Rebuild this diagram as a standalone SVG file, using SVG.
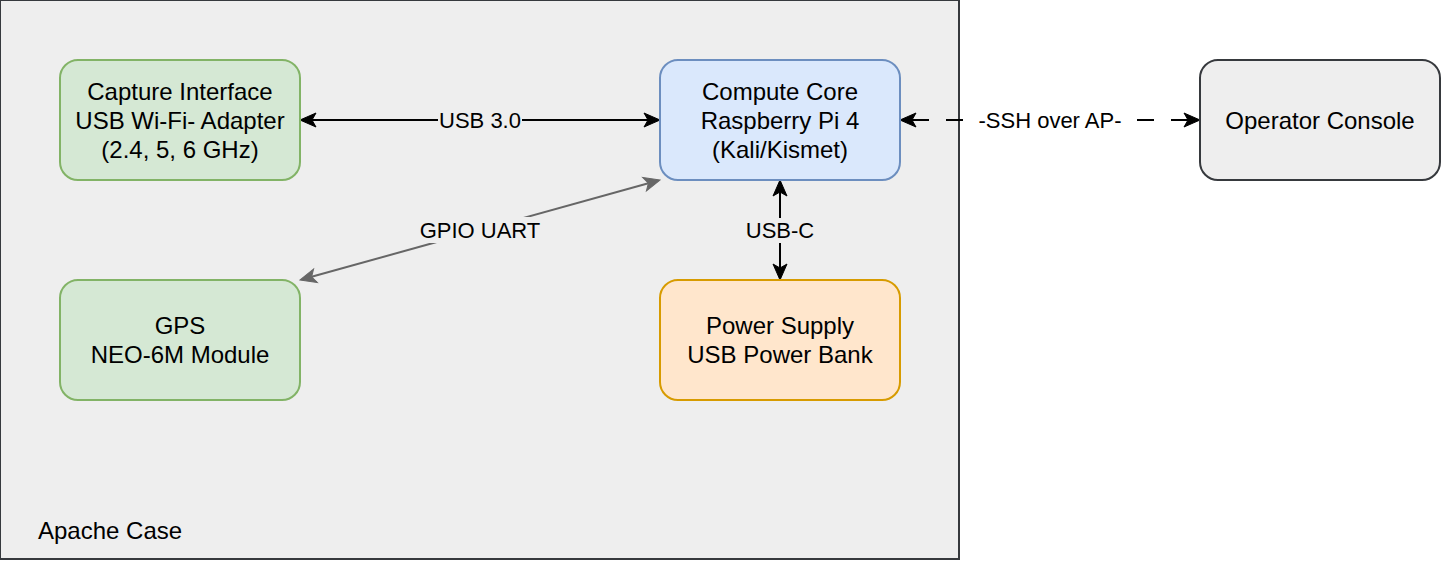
<svg xmlns="http://www.w3.org/2000/svg" width="1442" height="562" viewBox="0 0 1442 562">
  <style>
    .node { stroke-width: 2; }
    .t { font-family: "Liberation Sans", Arial, sans-serif; font-size: 24px; fill: #000; text-anchor: middle; }
    .lbl { font-family: "Liberation Sans", Arial, sans-serif; font-size: 22px; fill: #000; text-anchor: middle; }
    .edge { fill: none; stroke-width: 2; }
  </style>
  <defs>
    <marker id="arrBlack" markerUnits="userSpaceOnUse" markerWidth="20" markerHeight="20" refX="0" refY="0" viewBox="-6 -10 20 20" orient="auto-start-reverse" overflow="visible">
      <path d="M12,0 L-4,-7 L0,0 L-4,7 Z" fill="#000" stroke="#000" stroke-width="1" stroke-linejoin="miter"/>
    </marker>
    <marker id="arrGray" markerUnits="userSpaceOnUse" markerWidth="20" markerHeight="20" refX="0" refY="0" viewBox="-6 -10 20 20" orient="auto-start-reverse" overflow="visible">
      <path d="M12,0 L-4,-7 L0,0 L-4,7 Z" fill="#666666" stroke="#666666" stroke-width="1" stroke-linejoin="miter"/>
    </marker>
  </defs>

  <rect width="1442" height="562" fill="#ffffff"/>

  <g id="apache-case">
    <rect x="0" y="0" width="959" height="559" fill="#eeeeee" stroke="#36393d" stroke-width="2"/>
    <text x="38" y="539" class="t" style="text-anchor:start">Apache Case</text>
  </g>

  <g id="connectors">
    <g id="edge-usb3">
      <line class="edge" x1="312" y1="120" x2="648" y2="120" stroke="#000" marker-start="url(#arrBlack)" marker-end="url(#arrBlack)"/>
      <rect x="438" y="107" width="84" height="26" fill="#eeeeee"/>
      <text x="480" y="128" class="lbl">USB 3.0</text>
    </g>
    <g id="edge-gpio">
      <line class="edge" x1="311.6" y1="276.8" x2="648.4" y2="183.2" stroke="#666666" marker-start="url(#arrGray)" marker-end="url(#arrGray)"/>
      <rect x="418" y="217" width="124" height="26" fill="#eeeeee"/>
      <text x="480" y="238" class="lbl">GPIO UART</text>
    </g>
    <g id="edge-usbc">
      <line class="edge" x1="780" y1="192" x2="780" y2="268" stroke="#000" marker-start="url(#arrBlack)" marker-end="url(#arrBlack)"/>
      <rect x="745" y="218" width="70" height="25" fill="#eeeeee"/>
      <text x="780" y="238" class="lbl">USB-C</text>
    </g>
    <g id="edge-ssh">
      <line class="edge" x1="912" y1="120" x2="1050" y2="120" stroke="#000" stroke-dasharray="17 17" marker-start="url(#arrBlack)"/>
      <line class="edge" x1="1188" y1="120" x2="1050" y2="120" stroke="#000" stroke-dasharray="17 17" marker-start="url(#arrBlack)"/>
      <rect x="976" y="107" width="148" height="26" fill="#ffffff"/>
      <text x="1050" y="128" class="lbl">-SSH over AP-</text>
    </g>
  </g>

  <g id="capture-interface">
    <rect class="node" x="60" y="60" width="240" height="120" rx="18" ry="18" fill="#d5e8d4" stroke="#82b366"/>
    <text x="180" y="100" class="t">Capture Interface</text>
    <text x="180" y="128.8" class="t">USB Wi-Fi- Adapter</text>
    <text x="180" y="157.6" class="t">(2.4, 5, 6 GHz)</text>
  </g>

  <g id="compute-core">
    <rect class="node" x="660" y="60" width="240" height="120" rx="18" ry="18" fill="#dae8fc" stroke="#6c8ebf"/>
    <text x="780" y="100" class="t">Compute Core</text>
    <text x="780" y="128.8" class="t">Raspberry Pi 4</text>
    <text x="780" y="157.6" class="t">(Kali/Kismet)</text>
  </g>

  <g id="gps">
    <rect class="node" x="60" y="280" width="240" height="120" rx="18" ry="18" fill="#d5e8d4" stroke="#82b366"/>
    <text x="180" y="334.2" class="t">GPS</text>
    <text x="180" y="363" class="t">NEO-6M Module</text>
  </g>

  <g id="power-supply">
    <rect class="node" x="660" y="280" width="240" height="120" rx="18" ry="18" fill="#ffe6cc" stroke="#d79b00"/>
    <text x="780" y="334.2" class="t">Power Supply</text>
    <text x="780" y="363" class="t">USB Power Bank</text>
  </g>

  <g id="operator-console">
    <rect class="node" x="1200" y="60" width="240" height="120" rx="18" ry="18" fill="#eeeeee" stroke="#36393d"/>
    <text x="1320" y="128.6" class="t">Operator Console</text>
  </g>
</svg>
